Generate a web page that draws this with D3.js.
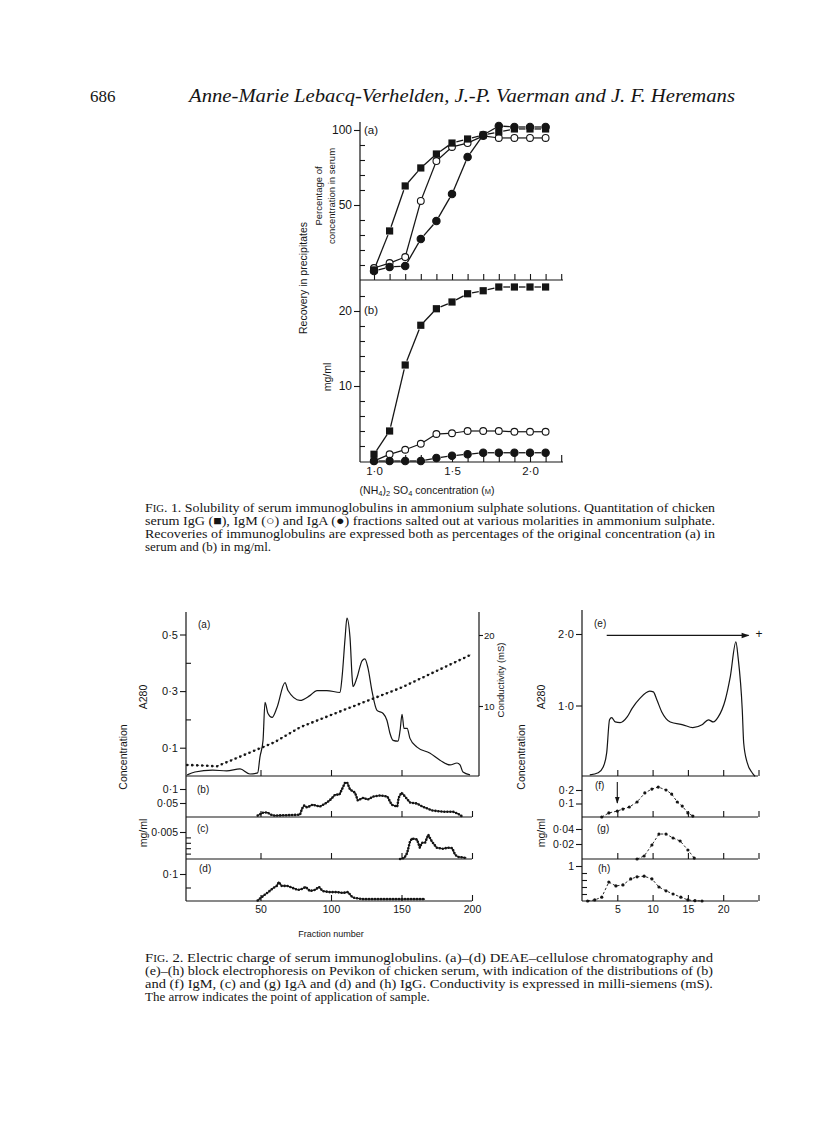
<!DOCTYPE html>
<html>
<head>
<meta charset="utf-8">
<script src="https://cdn.jsdelivr.net/npm/d3@7"></script>
<style>
body { margin: 0; background: #fff; }
</style>
</head>
<body>
<script>
// ---------- Fig. 1 data ----------
var molarity = [1.0, 1.1, 1.2, 1.3, 1.4, 1.5, 1.6, 1.7, 1.8, 1.9, 2.0, 2.1];
// (a) percentage of serum concentration
var pctIgG = [6.7, 32.7, 62.7, 74.7, 84.0, 91.3, 94.0, 96.7, 98.7, 100.7, 100.7, 100.7];
var pctIgM = [8.0, 11.3, 15.3, 52.7, 79.3, 88.7, 91.3, 96.0, 94.7, 94.7, 94.7, 94.7];
var pctIgA = [6.0, 8.7, 9.3, 27.3, 39.3, 57.3, 82.0, 96.7, 102.7, 102.0, 102.0, 102.0];
// (b) mg/ml
var mgIgG = [0.9, 4.0, 12.8, 18.1, 20.3, 21.2, 22.3, 22.7, 23.2, 23.2, 23.2, 23.2];
var mgIgM = [0, 0.9, 1.5, 2.3, 3.6, 3.7, 4.0, 4.0, 4.0, 3.9, 3.9, 3.9];
var mgIgA = [0, 0, 0, 0, 0.4, 0.7, 0.9, 1.1, 1.1, 1.1, 1.1, 1.1];
var molTicks = [1.0, 1.1, 1.2, 1.3, 1.4, 1.5, 1.6, 1.7, 1.8, 1.9, 2.0, 2.1, 2.2];
var molLabels = [1.0, 1.5, 2.0];
var pctMajor = [50, 100];
var pctMinor = [10, 20, 30, 40, 60, 70, 80, 90];
var mgMajor = [10, 20];
var mgMinor = [2, 4, 6, 8, 12, 14, 16, 18, 22];

// ---------- Fig. 2 data ----------
// (a) DEAE column: A280 and conductivity
var a280Frac = [-2, 3.5, 16, 26, 35.5, 42.5, 48, 49.6, 51.8, 53.2, 55.3, 58.2, 61.7, 67.4, 69.5, 78, 85, 90, 97,
  106.4, 107.8, 110, 111.3, 113.5, 115, 115.6, 118.4, 122, 124, 126.2, 129, 132.6, 137, 139.7, 141.8, 144,
  147.5, 149, 150.4, 151.8, 154, 156, 161, 170, 177.3, 184.4, 189.4, 191.5, 193.6, 198.6];
var a280Val = [0.004, 0.014, 0.021, 0.018, 0.025, 0.007, 0.011, 0.067, 0.126, 0.26, 0.221, 0.207, 0.242, 0.33, 0.302,
  0.267, 0.284, 0.302, 0.302, 0.295, 0.347, 0.488, 0.558, 0.488, 0.347, 0.316, 0.347, 0.407, 0.414, 0.382,
  0.302, 0.232, 0.221, 0.196, 0.151, 0.126, 0.123, 0.161, 0.218, 0.168, 0.168, 0.133, 0.102, 0.081, 0.056,
  0.039, 0.046, 0.039, 0.014, 0.004];
var condFrac = [-2, 10, 19, 60, 78, 106, 150, 199];
var condVal = [1.7, 1.6, 1.5, 4.9, 7.0, 9.2, 12.6, 17.2];
// (b) IgM
var igmColFrac = [48, 52, 55, 57, 60, 78, 79.5, 81, 83, 87, 92, 96, 99, 103, 106, 110, 111.5, 113.5, 117, 119, 123,
  126, 130, 135, 140, 143, 147, 148, 150, 152.5, 156, 161, 165, 172, 179.5, 186.5, 190, 193];
var igmColVal = [0.005, 0.016, 0.016, 0.009, 0.005, 0.008, 0.03, 0.041, 0.034, 0.044, 0.037, 0.048, 0.059, 0.08,
  0.08, 0.123, 0.123, 0.098, 0.087, 0.059, 0.069, 0.062, 0.073, 0.077, 0.073, 0.044, 0.037, 0.069, 0.087, 0.073,
  0.052, 0.048, 0.037, 0.023, 0.019, 0.019, 0.012, 0.002];
// (c) IgA
var igaColFrac = [149, 152, 154, 156, 157.4, 161, 163, 164.5, 166.7, 169, 171.6, 175, 179.5, 183, 186, 188, 190, 196];
var igaColVal = [0, 0.0002, 0.0011, 0.0032, 0.0038, 0.0036, 0.0021, 0.003, 0.003, 0.0045, 0.0032, 0.0021, 0.0019,
  0.0021, 0.002, 0.0008, 0.0004, 0.0002];
// (d) IgG
var iggColFrac = [48, 51, 55.5, 59, 61.5, 63, 65, 69, 73, 76.6, 79, 82, 85, 88.6, 91.5, 94, 99, 104, 108.5, 112,
  115, 117, 122.7, 140, 166.7];
var iggColVal = [0.002, 0.015, 0.033, 0.048, 0.056, 0.07, 0.056, 0.056, 0.048, 0.041, 0.044, 0.052, 0.037, 0.041,
  0.052, 0.037, 0.033, 0.033, 0.03, 0.033, 0.015, 0.011, 0.007, 0.007, 0.007];
var fracTicks = [50, 100, 150, 200];

// (e) Pevikon block: A280
var blkFrac = [1.1, 2.3, 3, 3.5, 3.9, 4.2, 4.7, 5.4, 6.4, 7.1, 8.2, 9.6, 10.1, 10.6, 11.3, 12.5, 14.3, 15.7, 17,
  17.9, 18.6, 19.3, 20.3, 21, 21.8, 22.1, 22.7, 22.9, 23.4, 24.1, 24.5];
var blkVal = [0.3, 0.6, 1.4, 3.4, 8.0, 8.3, 7.7, 7.6, 8.4, 9.6, 11.0, 12.0, 11.9, 10.8, 9.1, 7.7, 7.3, 6.9, 7.3, 8.0,
  7.7, 8.4, 10.8, 14.0, 18.9, 16.8, 9.4, 4.8, 2.0, 0.6, 0.1];
// (f) IgM, (g) IgA, (h) IgG
var fFrac = [2.8, 3.8, 5, 5.8, 6.7, 7.8, 8.9, 9.9, 10.8, 11.9, 12.7, 13.5, 14.2, 15, 15.7];
var fVal = [0, 0.03, 0.044, 0.059, 0.074, 0.111, 0.178, 0.207, 0.222, 0.2, 0.17, 0.111, 0.081, 0.03, 0.007];
var gFrac = [7.8, 8.8, 9.9, 10.9, 11.9, 12.9, 13.9, 15, 15.9];
var gVal = [0, 0.004, 0.0187, 0.0333, 0.0333, 0.028, 0.024, 0.012, 0.0013];
var hFrac = [0.8, 1.8, 2.8, 3.8, 4.8, 5.8, 6.9, 7.8, 8.8, 9.9, 10.9, 11.9, 12.9, 14, 15, 16, 17];
var hVal = [0, 0.03, 0.11, 0.54, 0.43, 0.46, 0.63, 0.69, 0.71, 0.63, 0.4, 0.29, 0.2, 0.11, 0.03, 0.01, 0];
var blkTicks = [5, 10, 15, 20, 25];
var blkLabels = [5, 10, 15, 20];

var SANS = "'Liberation Sans', Arial, sans-serif";
var SERIF = "'Liberation Serif', 'Times New Roman', serif";
var INK = "#151515";

var svg = d3.select("body").append("svg")
  .attr("width", 816)
  .attr("height", 1127)
  .style("font-family", SANS);

function dotFmt(p) {
  var f = d3.format("." + p + "f");
  return function (d) { return f(d).replace(".", "\u00b7"); };
}

function line(x1, y1, x2, y2, w) {
  svg.append("line").attr("x1", x1).attr("y1", y1).attr("x2", x2).attr("y2", y2)
    .attr("stroke", INK).attr("stroke-width", w || 1.2);
}

function text(x, y, s, size, anchor, rot) {
  var t = svg.append("text")
    .attr("font-size", size)
    .attr("fill", INK)
    .attr("text-anchor", anchor || "start");
  if (rot) t.attr("transform", "translate(" + x + "," + y + ") rotate(-90)");
  else t.attr("x", x).attr("y", y);
  t.text(s);
  return t;
}

// labelled ticks outward on the left, minor ticks inward
function leftTicks(x0, y, major, minor, fmt, size) {
  var g = svg.append("g").attr("transform", "translate(" + x0 + ",0)")
    .attr("color", INK)
    .call(d3.axisLeft(y).tickValues(major).tickSize(6).tickPadding(2).tickFormat(fmt));
  g.select(".domain").remove();
  g.selectAll("line").attr("stroke-width", 1.1);
  g.selectAll("text").attr("font-size", size).attr("font-family", SANS).attr("fill", INK);
  if (minor.length) {
    var m = svg.append("g").attr("transform", "translate(" + x0 + ",0)")
      .attr("color", INK)
      .call(d3.axisRight(y).tickValues(minor).tickSize(5).tickFormat(""));
    m.select(".domain").remove();
    m.selectAll("line").attr("stroke-width", 1.1);
  }
}

function rightTicks(x0, y, major, fmt, size) {
  var g = svg.append("g").attr("transform", "translate(" + x0 + ",0)")
    .attr("color", INK)
    .call(d3.axisRight(y).tickValues(major).tickSize(4).tickPadding(1).tickFormat(fmt));
  g.select(".domain").remove();
  g.selectAll("line").attr("stroke-width", 1.1);
  g.selectAll("text").attr("font-size", size).attr("font-family", SANS).attr("fill", INK);
}

function upTicks(y0, x, vals, len) {
  var g = svg.append("g").attr("transform", "translate(0," + y0 + ")")
    .attr("color", INK)
    .call(d3.axisTop(x).tickValues(vals).tickSize(len || 6).tickFormat(""));
  g.select(".domain").remove();
  g.selectAll("line").attr("stroke-width", 1.1);
}

function bottomLabels(y0, x, vals, fmt, size) {
  var g = svg.append("g").attr("transform", "translate(0," + y0 + ")")
    .call(d3.axisBottom(x).tickValues(vals).tickSize(0).tickPadding(5).tickFormat(fmt));
  g.select(".domain").remove();
  g.selectAll("text").attr("font-size", size).attr("font-family", SANS).attr("fill", INK);
}

// line segments between markers, stopping short of each marker
function gapped(xs, ys, x, y, gap, w) {
  var pts = xs.map(function (d, i) { return [x(d), y(ys[i])]; });
  svg.append("g").selectAll("line")
    .data(d3.pairs(pts))
    .enter().append("line")
    .each(function (p) {
      var dx = p[1][0] - p[0][0], dy = p[1][1] - p[0][1];
      var len = Math.sqrt(dx * dx + dy * dy);
      var ux = dx / len, uy = dy / len;
      var g0 = Math.min(gap, len / 2);
      d3.select(this)
        .attr("x1", p[0][0] + ux * g0).attr("y1", p[0][1] + uy * g0)
        .attr("x2", p[1][0] - ux * g0).attr("y2", p[1][1] - uy * g0);
    })
    .attr("stroke", INK)
    .attr("stroke-width", w || 1.3);
}

function squares(xs, ys, x, y) {
  svg.append("g").selectAll("rect")
    .data(xs).enter().append("rect")
    .attr("x", function (d) { return x(d) - 3.6; })
    .attr("y", function (d, i) { return y(ys[i]) - 3.6; })
    .attr("width", 7.2).attr("height", 7.2)
    .attr("fill", INK);
}

function circles(xs, ys, x, y, filled) {
  svg.append("g").selectAll("circle")
    .data(xs).enter().append("circle")
    .attr("cx", function (d) { return x(d); })
    .attr("cy", function (d, i) { return y(ys[i]); })
    .attr("r", filled ? 3.7 : 3.4)
    .attr("fill", filled ? INK : "#fff")
    .attr("stroke", INK)
    .attr("stroke-width", 1.1);
}

// ---------- page header ----------
text(90, 102, "686", 17, "start").attr("font-family", SERIF);
text(189, 102, "Anne-Marie Lebacq-Verhelden, J.-P. Vaerman and J. F. Heremans", 18, "start")
  .attr("font-family", SERIF).attr("font-style", "italic")
  .attr("textLength", 546).attr("lengthAdjust", "spacingAndGlyphs");

// ---------- Fig. 1 ----------
var xMol = d3.scaleLinear().domain([1.0, 2.0]).range([374, 530]);
var yPct = d3.scaleLinear().domain([0, 100]).range([280, 130]);
var yMg = d3.scaleLinear().domain([0, 20]).range([461, 311]);

line(360, 122, 360, 462);
line(360, 280, 563, 280);
line(360, 462, 563, 462);
leftTicks(360, yPct, pctMajor, pctMinor, d3.format("d"), 12);
leftTicks(360, yMg, mgMajor, mgMinor, d3.format("d"), 12);
upTicks(280, xMol, molTicks, 6);
upTicks(462, xMol, molTicks, 7);
bottomLabels(462, xMol, molLabels, dotFmt(1), 11.5);
text(364, 134, "(a)", 11.5);
text(364, 314, "(b)", 11.5);

// (a) percentages
gapped(molarity, pctIgM, xMol, yPct, 3.4, 1.2);
gapped(molarity, pctIgG, xMol, yPct, 4.5, 1.3);
gapped(molarity, pctIgA, xMol, yPct, 4.5, 1.3);
circles(molarity, pctIgM, xMol, yPct, false);
squares(molarity, pctIgG, xMol, yPct);
circles(molarity, pctIgA, xMol, yPct, true);
// (b) mg/ml
gapped(molarity, mgIgM, xMol, yMg, 3.4, 1.2);
gapped(molarity, mgIgG, xMol, yMg, 4.5, 1.3);
gapped(molarity, mgIgA, xMol, yMg, 4.5, 1.3);
circles(molarity, mgIgM, xMol, yMg, false);
squares(molarity, mgIgG, xMol, yMg);
circles(molarity, mgIgA, xMol, yMg, true);

text(307, 278, "Recovery in precipitates", 10.5, "middle", true);
text(322, 196, "Percentage of", 9.5, "middle", true);
text(335, 196, "concentration in serum", 9.5, "middle", true);
text(331, 377, "mg/ml", 10.5, "middle", true);

var xt = text(427, 494, "", 10.5, "middle");
xt.append("tspan").text("(NH");
xt.append("tspan").attr("font-size", 7.5).attr("dy", 2).text("4");
xt.append("tspan").attr("dy", -2).text(")");
xt.append("tspan").attr("font-size", 7.5).attr("dy", 2).text("2");
xt.append("tspan").attr("dy", -2).text(" SO");
xt.append("tspan").attr("font-size", 7.5).attr("dy", 2).text("4");
xt.append("tspan").attr("dy", -2).text("  concentration (");
xt.append("tspan").attr("font-size", 7.5).text("M");
xt.append("tspan").text(")");

// captions
function caption(lines, x, y0, width) {
  lines.forEach(function (s, i) {
    var t = svg.append("text")
      .attr("x", x).attr("y", y0 + i * 13)
      .attr("font-family", SERIF).attr("font-size", 13).attr("fill", INK);
    if (i === 0) {
      t.append("tspan").text("F");
      t.append("tspan").attr("font-size", 10).text("IG");
      t.append("tspan").text(s);
    } else {
      t.text(s);
    }
    if (i < lines.length - 1) t.attr("textLength", width).attr("lengthAdjust", "spacingAndGlyphs");
  });
}

caption([
  ". 1. Solubility of serum immunoglobulins in ammonium sulphate solutions. Quantitation of chicken",
  "serum IgG (\u25a0), IgM (\u25cb) and IgA (\u25cf) fractions salted out at various molarities in ammonium sulphate.",
  "Recoveries of immunoglobulins are expressed both as percentages of the original concentration (a) in",
  "serum and (b) in mg/ml."
], 145, 512, 570);

// ---------- Fig. 2, left column (DEAE) ----------
var xFrac = d3.scaleLinear().domain([0, 200]).range([190, 472]);
var yA = d3.scaleLinear().domain([0, 0.5]).range([776, 634.5]);
var yCond = d3.scaleLinear().domain([0, 20]).range([777, 635]);
var yB = d3.scaleLinear().domain([0, 0.1]).range([817, 789]);
var yC = d3.scaleLinear().domain([0, 0.005]).range([859, 832]);
var yD = d3.scaleLinear().domain([0, 0.1]).range([901, 874]);

line(186, 612, 186, 901);
line(479, 612, 479, 776);
line(186, 776, 479, 776);
line(186, 817, 472, 817);
line(186, 859, 472, 859);
line(186, 901, 472, 901);
leftTicks(186, yA, [0.1, 0.3, 0.5], [0.2, 0.4], dotFmt(1), 11);
rightTicks(479, yCond, [10, 20], d3.format("d"), 9.5);
leftTicks(186, yB, [0.05, 0.1], [], function (d) { return d === 0.1 ? "0\u00b71" : "0\u00b705"; }, 10.5);
leftTicks(186, yC, [0.005], [0.001, 0.002, 0.003, 0.004], function () { return "0\u00b7005"; }, 10.5);
leftTicks(186, yD, [0.1], [0.05], dotFmt(1), 10.5);
upTicks(776, xFrac, [50, 100, 150], 6);
upTicks(817, xFrac, fracTicks, 6);
upTicks(859, xFrac, fracTicks, 6);
upTicks(901, xFrac, fracTicks, 6);
bottomLabels(901, xFrac, fracTicks, d3.format("d"), 10.5);

var lineA = d3.line().x(function (d) { return xFrac(d[0]); }).curve(d3.curveMonotoneX);

// A280 solid
svg.append("path")
  .datum(d3.zip(a280Frac, a280Val))
  .attr("d", lineA.y(function (d) { return yA(d[1]); }))
  .attr("fill", "none").attr("stroke", INK).attr("stroke-width", 1.2);

// conductivity: thin line with dots
var condLine = d3.line().x(function (d) { return xFrac(d[0]); }).y(function (d) { return yCond(d[1]); });
svg.append("path").datum(d3.zip(condFrac, condVal)).attr("d", condLine)
  .attr("fill", "none").attr("stroke", INK).attr("stroke-width", 0.7).attr("stroke-dasharray", "2,3");
svg.append("path").datum(d3.zip(condFrac, condVal)).attr("d", condLine)
  .attr("fill", "none").attr("stroke", INK).attr("stroke-width", 2.6)
  .attr("stroke-linecap", "round").attr("stroke-dasharray", "0,5");

function beaded(xs, ys, x, y) {
  var l = d3.line().x(function (d) { return x(d[0]); }).y(function (d) { return y(d[1]); });
  var data = d3.zip(xs, ys);
  svg.append("path").datum(data).attr("d", l)
    .attr("fill", "none").attr("stroke", INK).attr("stroke-width", 1.1);
  svg.append("path").datum(data).attr("d", l)
    .attr("fill", "none").attr("stroke", INK).attr("stroke-width", 2.6)
    .attr("stroke-linecap", "round").attr("stroke-dasharray", "0,3");
}
beaded(igmColFrac, igmColVal, xFrac, yB);
beaded(igaColFrac, igaColVal, xFrac, yC);
beaded(iggColFrac, iggColVal, xFrac, yD);

text(198, 628, "(a)", 10);
text(197, 793, "(b)", 10);
text(197, 832, "(c)", 10);
text(199, 872, "(d)", 10);
text(147, 697, "A280", 10.5, "middle", true);
text(127, 757, "Concentration", 10.5, "middle", true);
text(147, 833, "mg/ml", 10.5, "middle", true);
text(504, 680, "Conductivity (mS)", 9.5, "middle", true);
text(331, 937, "Fraction number", 9, "middle");

// ---------- Fig. 2, right column (Pevikon block) ----------
var xBlk = d3.scaleLinear().domain([0, 25]).range([582, 758.5]);
var yE = d3.scaleLinear().domain([0, 20]).range([777, 634]);
var yF = d3.scaleLinear().domain([0, 0.2]).range([817, 790]);
var yG = d3.scaleLinear().domain([0, 0.04]).range([859, 829]);
var yH = d3.scaleLinear().domain([0, 1]).range([901, 866]);

line(582, 610, 582, 901);
line(582, 776, 758, 776);
line(582, 817, 758, 817);
line(582, 859, 758, 859);
line(582, 901, 758, 901);
leftTicks(582, yE, [10, 20], [], function (d) { return d === 20 ? "2\u00b70" : "1\u00b70"; }, 11);
leftTicks(582, yF, [0.1, 0.2], [], dotFmt(1), 10.5);
leftTicks(582, yG, [0.02, 0.04], [], dotFmt(2), 10.5);
leftTicks(582, yH, [1], [0.2, 0.4, 0.6, 0.8], d3.format("d"), 10.5);
upTicks(776, xBlk, blkTicks, 6);
upTicks(817, xBlk, blkTicks, 6);
upTicks(859, xBlk, blkTicks, 6);
upTicks(901, xBlk, blkTicks, 6);
bottomLabels(901, xBlk, blkLabels, d3.format("d"), 10.5);

svg.append("path")
  .datum(d3.zip(blkFrac, blkVal))
  .attr("d", d3.line().x(function (d) { return xBlk(d[0]); }).y(function (d) { return yE(d[1]); })
    .curve(d3.curveMonotoneX))
  .attr("fill", "none").attr("stroke", INK).attr("stroke-width", 1.2);

function dashDots(xs, ys, x, y) {
  var data = d3.zip(xs, ys);
  svg.append("path").datum(data)
    .attr("d", d3.line().x(function (d) { return x(d[0]); }).y(function (d) { return y(d[1]); }))
    .attr("fill", "none").attr("stroke", INK).attr("stroke-width", 0.9).attr("stroke-dasharray", "2.5,2");
  svg.append("g").selectAll("circle").data(data).enter().append("circle")
    .attr("cx", function (d) { return x(d[0]); })
    .attr("cy", function (d) { return y(d[1]); })
    .attr("r", 1.6).attr("fill", INK);
}
dashDots(fFrac, fVal, xBlk, yF);
dashDots(gFrac, gVal, xBlk, yG);
dashDots(hFrac, hVal, xBlk, yH);

// direction of migration and point of application
svg.append("defs").append("marker")
  .attr("id", "head").attr("viewBox", "0 0 10 10").attr("refX", 9).attr("refY", 5)
  .attr("markerWidth", 9).attr("markerHeight", 6).attr("orient", "auto")
  .append("path").attr("d", "M0,1.5 L10,5 L0,8.5 Z").attr("fill", INK);
svg.append("line")
  .attr("x1", xBlk(3.5)).attr("x2", xBlk(23.6))
  .attr("y1", yE(19.8)).attr("y2", yE(19.8))
  .attr("stroke", INK).attr("stroke-width", 1.3)
  .attr("marker-end", "url(#head)");
text(759, 638, "+", 12, "middle");

svg.append("line")
  .attr("x1", xBlk(5)).attr("x2", xBlk(5))
  .attr("y1", 782).attr("y2", 803)
  .attr("stroke", INK).attr("stroke-width", 1.1)
  .attr("marker-end", "url(#head)");

text(594, 627, "(e)", 10);
text(595, 789, "(f)", 10);
text(597, 832, "(g)", 10);
text(598, 872, "(h)", 10);
text(545, 697, "A280", 10.5, "middle", true);
text(525, 757, "Concentration", 10.5, "middle", true);
text(545, 833, "mg/ml", 10.5, "middle", true);

caption([
  ". 2. Electric charge of serum immunoglobulins. (a)\u2013(d) DEAE\u2013cellulose chromatography and",
  "(e)\u2013(h) block electrophoresis on Pevikon of chicken serum, with indication of the distributions of (b)",
  "and (f) IgM, (c) and (g) IgA and (d) and (h) IgG. Conductivity is expressed in milli-siemens (mS).",
  "The arrow indicates the point of application of sample."
], 145, 962, 568);
</script>
</body>
</html>
